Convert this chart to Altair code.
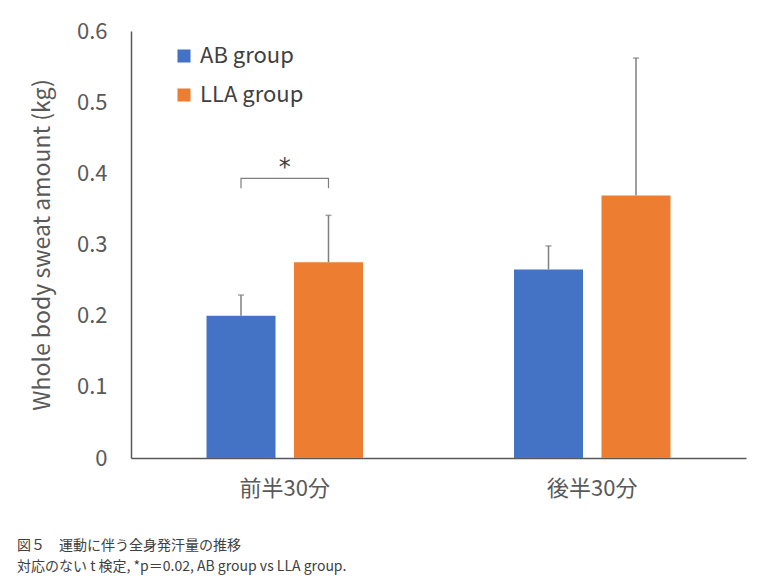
import altair as alt
import pandas as pd

periods = ["前半30分", "後半30分"]
groups = ["AB group", "LLA group"]
means = {"AB group": [0.200, 0.265], "LLA group": [0.275, 0.369]}
sds = {"AB group": [0.029, 0.033], "LLA group": [0.066, 0.193]}
caption = ["図５　運動に伴う全身発汗量の推移",
           "対応のない t 検定, *p＝0.02, AB group vs LLA group."]

rows = []
for g in groups:
    for i, p in enumerate(periods):
        rows.append({"period": p, "group": g, "mean": means[g][i],
                     "top": means[g][i] + sds[g][i]})
df = pd.DataFrame(rows)

# significance bracket (前半30分, AB vs LLA)
bracket_low = 0.379
bracket_high = 0.393
br = pd.DataFrame({
    "period": ["前半30分"] * 4,
    "group": ["AB group", "AB group", "LLA group", "LLA group"],
    "y": [bracket_low, bracket_high, bracket_high, bracket_low],
    "order": [0, 1, 2, 3],
})
star = pd.DataFrame({"period": ["前半30分"], "y": [0.408], "label": ["*"]})

FONT = "Noto Sans CJK JP"
TXT = "#595959"

x = alt.X("period:N", sort=periods, title=None,
          scale=alt.Scale(paddingInner=0, paddingOuter=0),
          axis=alt.Axis(labelAngle=0, labelFontSize=22, labelColor=TXT, labelFont=FONT,
                        ticks=False, labelPadding=20, domainColor="#595959", domainWidth=1.5))
xo = alt.XOffset("group:N", sort=groups,
                 scale=alt.Scale(paddingInner=0.211, paddingOuter=0.863))
y = alt.Y("mean:Q", title="Whole body sweat amount (kg)",
          scale=alt.Scale(domain=[0, 0.6]),
          axis=alt.Axis(values=[0, 0.1, 0.2, 0.3, 0.4, 0.5, 0.6], format="~g", grid=False,
                        ticks=False, labelPadding=24, labelFontSize=22, labelColor=TXT,
                        labelFont=FONT, titleFontSize=23, titleColor=TXT, titleFont=FONT,
                        titleFontWeight="normal", titlePadding=22, domainColor="#595959",
                        domainWidth=1.5))

color = alt.Color("group:N", sort=groups, title=None,
                  scale=alt.Scale(domain=groups, range=["#4472C4", "#ED7D31"]),
                  legend=alt.Legend(orient="none", legendX=42, legendY=14, symbolType="square",
                                    symbolSize=170, symbolStrokeWidth=0, labelFontSize=22,
                                    labelColor="#404040", labelFont=FONT, rowPadding=17,
                                    labelOffset=5))

bars = alt.Chart(df).mark_bar(size=69).encode(x=x, xOffset=xo, y=y, color=color)

err = alt.Chart(df).mark_rule(color="#7f7f7f", strokeWidth=1.5).encode(
    x=alt.X("period:N", sort=periods), xOffset=alt.XOffset("group:N", sort=groups),
    y="mean:Q", y2="top:Q")
cap = alt.Chart(df).mark_tick(color="#7f7f7f", thickness=1.5, size=6, orient="horizontal").encode(
    x=alt.X("period:N", sort=periods), xOffset=alt.XOffset("group:N", sort=groups),
    y="top:Q")

bracket = alt.Chart(br).mark_line(color="#7f7f7f", strokeWidth=1.2).encode(
    x=alt.X("period:N", sort=periods), xOffset=alt.XOffset("group:N", sort=groups),
    y="y:Q", order="order:Q")
stars = alt.Chart(star).mark_text(fontSize=24, font="DejaVu Sans", color="#404040",
                                  baseline="middle").encode(
    x=alt.X("period:N", sort=periods), y="y:Q", text="label:N")

cap_df = pd.DataFrame({"t": caption, "line": [0, 1]})
cap1 = alt.Chart(cap_df[cap_df.line == 0]).mark_text(
    fontSize=14, font=FONT, color="#404040", align="left", baseline="middle").encode(
    x=alt.value(-114), y=alt.value(515), text="t:N")
cap2 = alt.Chart(cap_df[cap_df.line == 1]).mark_text(
    fontSize=14, font=FONT, color="#404040", align="left", baseline="middle").encode(
    x=alt.value(-114), y=alt.value(536), text="t:N")

chart = alt.layer(bars, err, cap, bracket, stars, cap1, cap2).properties(
    width=615, height=427,
    autosize=alt.AutoSizeParams(type="none"),
    padding={"left": 123, "top": 23, "right": 14, "bottom": 118},
).configure_view(stroke=None).configure_axis(domainColor="#595959")

chart.save("out.html", embed_options={"renderer": "svg", "actions": False})
